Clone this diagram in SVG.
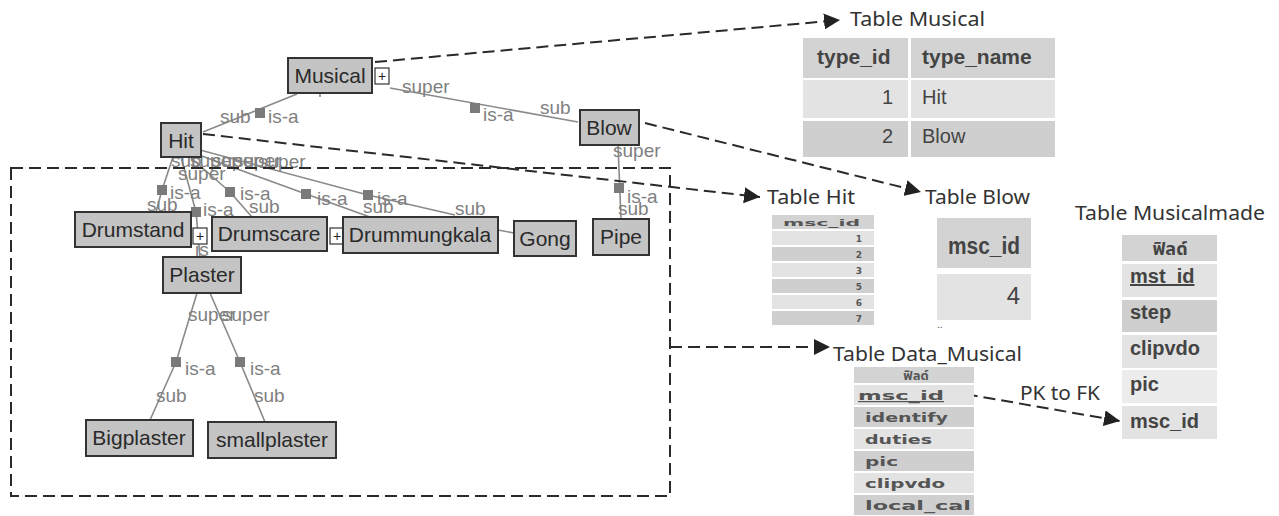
<svg xmlns="http://www.w3.org/2000/svg" width="1279" height="516" viewBox="0 0 1279 516">
<style>
.node rect{fill:#c4c4c4;stroke:#333;stroke-width:2}
.node text{font-family:"Liberation Sans",Arial,sans-serif;font-size:21px;fill:#2a2a2a}
.edge{stroke:#8a8a8a;stroke-width:1.6;fill:none}
.sq{fill:#7a7a7a}
.lbl{font-family:"Liberation Sans",Arial,sans-serif;font-size:19px;fill:#808080}
.dash{stroke:#2a2a2a;stroke-width:2;stroke-dasharray:12 6;fill:none}
.ttl{font-family:"Noto Sans","Open Sans",sans-serif;font-size:19px;fill:#333}
.th{font-family:"Liberation Sans",Arial,sans-serif;font-weight:bold;fill:#444}
.td{font-family:"Liberation Sans",Arial,sans-serif;fill:#444}
.wide{font-family:"DejaVu Sans",Verdana,sans-serif;font-weight:bold;fill:#555}
.c1{fill:#d3d3d3}.c2{fill:#e3e3e3}.c3{fill:#cfcfcf}.c4{fill:#ececec}
.plus{font-family:"Liberation Sans",Arial,sans-serif;font-size:14px;fill:#222}
</style>
<defs>
<marker id="ahb" viewBox="0 0 10 10" refX="10" refY="5" markerWidth="16" markerHeight="16" markerUnits="userSpaceOnUse" orient="auto"><path d="M0,0 L10,5 L0,10 z" fill="#222"/></marker>
</defs>
<rect width="1279" height="516" fill="#fff"/>

<!-- graph edges -->
<g id="edges">
<path class="edge" d="M297,94 L203,132"/>
<path class="edge" d="M320,93 L320,97"/>
<path class="edge" d="M390,88 L578,122"/>
<path class="edge" d="M618,145 L621,219"/>
<path class="edge" d="M173,157 L162,190 L156,212"/>
<path class="edge" d="M181,157 L196,212 L200,257"/>
<path class="edge" d="M190,157 L230,192 L252,217"/>
<path class="edge" d="M199,155 L306,194 L370,217"/>
<path class="edge" d="M200,150 L368,195 L455,215"/>
<path class="edge" d="M498,230 L514,233"/>
<path class="edge" d="M197,293 L176,362 L150,420"/>
<path class="edge" d="M210,293 L240,362 L265,422"/>
<g class="sq">
<rect x="255" y="108" width="10" height="10"/>
<rect x="470" y="103" width="10" height="10"/>
<rect x="614" y="183" width="10" height="10"/>
<rect x="157" y="185" width="10" height="10"/>
<rect x="191" y="207" width="10" height="10"/>
<rect x="225" y="187" width="10" height="10"/>
<rect x="301" y="189" width="10" height="10"/>
<rect x="363" y="190" width="10" height="10"/>
<rect x="171" y="357" width="10" height="10"/>
<rect x="235" y="357" width="10" height="10"/>
</g>
<g class="lbl">
<text x="220" y="123">sub</text><text x="268" y="123">is-a</text>
<text x="402" y="93">super</text><text x="483" y="121">is-a</text><text x="540" y="114">sub</text>
<text x="613" y="157">super</text><text x="627" y="203">is-a</text><text x="618" y="215">sub</text>
<text x="171" y="167">sub</text><text x="190" y="167">super</text><text x="212" y="167">super</text><text x="234" y="167">super</text><text x="258" y="168">super</text>
<text x="178" y="180">super</text>
<text x="147" y="211">sub</text><text x="170" y="199">is-a</text>
<text x="203" y="216">is-a</text><text x="195" y="256">is</text>
<text x="240" y="200">is-a</text><text x="249" y="213">sub</text>
<text x="317" y="205">is-a</text><text x="363" y="213">sub</text>
<text x="377" y="205">is-a</text><text x="455" y="215">sub</text>
<text x="188" y="321">super</text><text x="222" y="321">super</text>
<text x="185" y="375">is-a</text><text x="250" y="375">is-a</text>
<text x="156" y="402">sub</text><text x="254" y="402">sub</text>
</g>
</g>

<!-- nodes -->
<g id="n-musical" class="node"><rect x="288" y="58" width="84" height="35"/><text x="330" y="83" text-anchor="middle">Musical</text></g>
<g id="n-musical-plus"><rect x="375" y="68" width="14" height="16" fill="#fff" stroke="#333" stroke-width="1.2"/><text class="plus" x="382" y="81" text-anchor="middle">+</text></g>
<g id="n-hit" class="node"><rect x="161" y="123" width="40" height="34"/><text x="181" y="148" text-anchor="middle">Hit</text></g>
<g id="n-blow" class="node"><rect x="580" y="110" width="59" height="35"/><text x="609" y="135" text-anchor="middle">Blow</text></g>
<g id="n-drumstand" class="node"><rect x="75" y="212" width="116" height="35"/><text x="133" y="237" text-anchor="middle">Drumstand</text></g>
<g id="n-drumstand-plus"><rect x="193" y="228" width="14" height="16" fill="#fff" stroke="#333" stroke-width="1.2"/><text class="plus" x="200" y="241" text-anchor="middle">+</text></g>
<g id="n-drumscare" class="node"><rect x="212" y="217" width="115" height="34"/><text x="269" y="241" text-anchor="middle">Drumscare</text></g>
<g id="n-drumscare-plus"><rect x="330" y="228" width="14" height="16" fill="#fff" stroke="#333" stroke-width="1.2"/><text class="plus" x="337" y="241" text-anchor="middle">+</text></g>
<g id="n-drummungkala" class="node"><rect x="343" y="217" width="155" height="36"/><text x="420" y="242" text-anchor="middle">Drummungkala</text></g>
<g id="n-gong" class="node"><rect x="514" y="221" width="62" height="35"/><text x="545" y="246" text-anchor="middle">Gong</text></g>
<g id="n-pipe" class="node"><rect x="593" y="219" width="56" height="36"/><text x="621" y="244" text-anchor="middle">Pipe</text></g>
<g id="n-plaster" class="node"><rect x="163" y="257" width="78" height="36"/><text x="202" y="282" text-anchor="middle">Plaster</text></g>
<g id="n-bigplaster" class="node"><rect x="86" y="420" width="107" height="36"/><text x="139" y="445" text-anchor="middle">Bigplaster</text></g>
<g id="n-smallplaster" class="node"><rect x="208" y="422" width="128" height="36"/><text x="272" y="447" text-anchor="middle">smallplaster</text></g>

<!-- mapping connectors -->
<g id="connectors">
<rect class="dash" x="11" y="168" width="659" height="328"/>
<path class="dash" d="M375,62 L840,20" marker-end="url(#ahb)"/>
<path class="dash" d="M203,134 L760,197" marker-end="url(#ahb)"/>
<path class="dash" d="M645,123 L921,192" marker-end="url(#ahb)"/>
<path class="dash" d="M670,347 L830,347" marker-end="url(#ahb)"/>
<path class="dash" d="M948,391 L1120,421" stroke-width="1.8" stroke-dasharray="8 5" marker-end="url(#ahb)"/>
<text class="ttl" x="1020" y="400" textLength="80" lengthAdjust="spacingAndGlyphs">PK to FK</text>
</g>

<!-- Table Musical -->
<g id="t-musical">
<text class="ttl" x="850" y="26" textLength="135" lengthAdjust="spacingAndGlyphs">Table Musical</text>
<rect class="c1" x="803" y="38" width="105" height="40"/><rect class="c1" x="911" y="38" width="144" height="40"/>
<rect class="c2" x="803" y="80" width="105" height="38"/><rect class="c2" x="911" y="80" width="144" height="38"/>
<rect class="c3" x="803" y="121" width="105" height="36"/><rect class="c3" x="911" y="121" width="144" height="36"/>
<text class="th" x="817" y="64" font-size="21">type_id</text><text class="th" x="922" y="64" font-size="21">type_name</text>
<text class="td" x="893" y="104" font-size="20" text-anchor="end">1</text><text class="td" x="922" y="104" font-size="20">Hit</text>
<text class="td" x="893" y="143" font-size="20" text-anchor="end">2</text><text class="td" x="922" y="143" font-size="20">Blow</text>
</g>

<!-- Table Hit -->
<g id="t-hit">
<text class="ttl" x="767" y="204" textLength="88" lengthAdjust="spacingAndGlyphs">Table Hit</text>
<rect class="c1" x="772" y="215" width="102" height="14"/>
<rect class="c2" x="772" y="231" width="102" height="14"/>
<rect class="c3" x="772" y="247" width="102" height="14"/>
<rect class="c2" x="772" y="263" width="102" height="14"/>
<rect class="c3" x="772" y="279" width="102" height="14"/>
<rect class="c2" x="772" y="295" width="102" height="14"/>
<rect class="c3" x="772" y="311" width="102" height="14"/>
<text class="wide" x="783" y="226" font-size="9" textLength="77" lengthAdjust="spacingAndGlyphs">msc_id</text>
<g class="wide" font-size="9" text-anchor="end">
<text x="862" y="242">1</text><text x="862" y="258">2</text><text x="862" y="274">3</text><text x="862" y="290">5</text><text x="862" y="306">6</text><text x="862" y="322">7</text>
</g>
</g>

<!-- Table Blow -->
<g id="t-blow">
<text class="ttl" x="925" y="204" textLength="105" lengthAdjust="spacingAndGlyphs">Table Blow</text>
<rect class="c1" x="937" y="218" width="94" height="50"/>
<rect class="c2" x="937" y="274" width="94" height="46"/>
<text class="th" x="984" y="254" font-size="23" text-anchor="middle" fill="#333" textLength="72" lengthAdjust="spacingAndGlyphs">msc_id</text>
<text class="td" x="1020" y="304" font-size="24" text-anchor="end" fill="#333">4</text>
<text class="td" x="937" y="328" font-size="10">..</text>
</g>

<!-- Table Musicalmade -->
<g id="t-musicalmade">
<text class="ttl" x="1075" y="220" textLength="190" lengthAdjust="spacingAndGlyphs">Table Musicalmade</text>
<rect class="c1" x="1122" y="235" width="95" height="26"/>
<rect class="c2" x="1122" y="264" width="95" height="33"/>
<rect class="c3" x="1122" y="300" width="95" height="32"/>
<rect class="c2" x="1122" y="335" width="95" height="33"/>
<rect class="c4" x="1122" y="370" width="95" height="33"/>
<rect class="c2" x="1122" y="406" width="95" height="33"/>
<g class="th" font-size="20" fill="#333">
<text x="1170" y="255" text-anchor="middle" font-size="18" font-family="'Noto Sans Thai','Noto Sans','Noto Sans CJK SC',sans-serif">ฟิลด์</text>
<text x="1130" y="283" text-decoration="underline">mst_id</text>
<text x="1130" y="319">step</text>
<text x="1130" y="355">clipvdo</text>
<text x="1130" y="391">pic</text>
<text x="1130" y="428">msc_id</text>
</g>
</g>

<!-- Table Data_Musical -->
<g id="t-datamusical">
<text class="ttl" x="833" y="361" textLength="189" lengthAdjust="spacingAndGlyphs">Table Data_Musical</text>
<rect class="c1" x="854" y="367" width="120" height="16"/>
<rect class="c2" x="854" y="385" width="120" height="20"/>
<rect class="c3" x="854" y="407" width="120" height="20"/>
<rect class="c2" x="854" y="429" width="120" height="20"/>
<rect class="c3" x="854" y="451" width="120" height="20"/>
<rect class="c2" x="854" y="473" width="120" height="20"/>
<rect class="c3" x="854" y="495" width="120" height="20"/>
<g class="wide" font-size="12">
<text x="916" y="380" text-anchor="middle" font-size="13" font-family="'Noto Sans Thai','Noto Sans','Noto Sans CJK SC',sans-serif">ฟิลด์</text>
<text x="858" y="400" text-decoration="underline" textLength="86" lengthAdjust="spacingAndGlyphs">msc_id</text>
<text x="865" y="422" textLength="83" lengthAdjust="spacingAndGlyphs">identify</text>
<text x="865" y="444" textLength="67" lengthAdjust="spacingAndGlyphs">duties</text>
<text x="865" y="466" textLength="33" lengthAdjust="spacingAndGlyphs">pic</text>
<text x="865" y="488" textLength="80" lengthAdjust="spacingAndGlyphs">clipvdo</text>
<text x="865" y="510" textLength="106" lengthAdjust="spacingAndGlyphs">local_cal</text>
</g>
</g>
</svg>
